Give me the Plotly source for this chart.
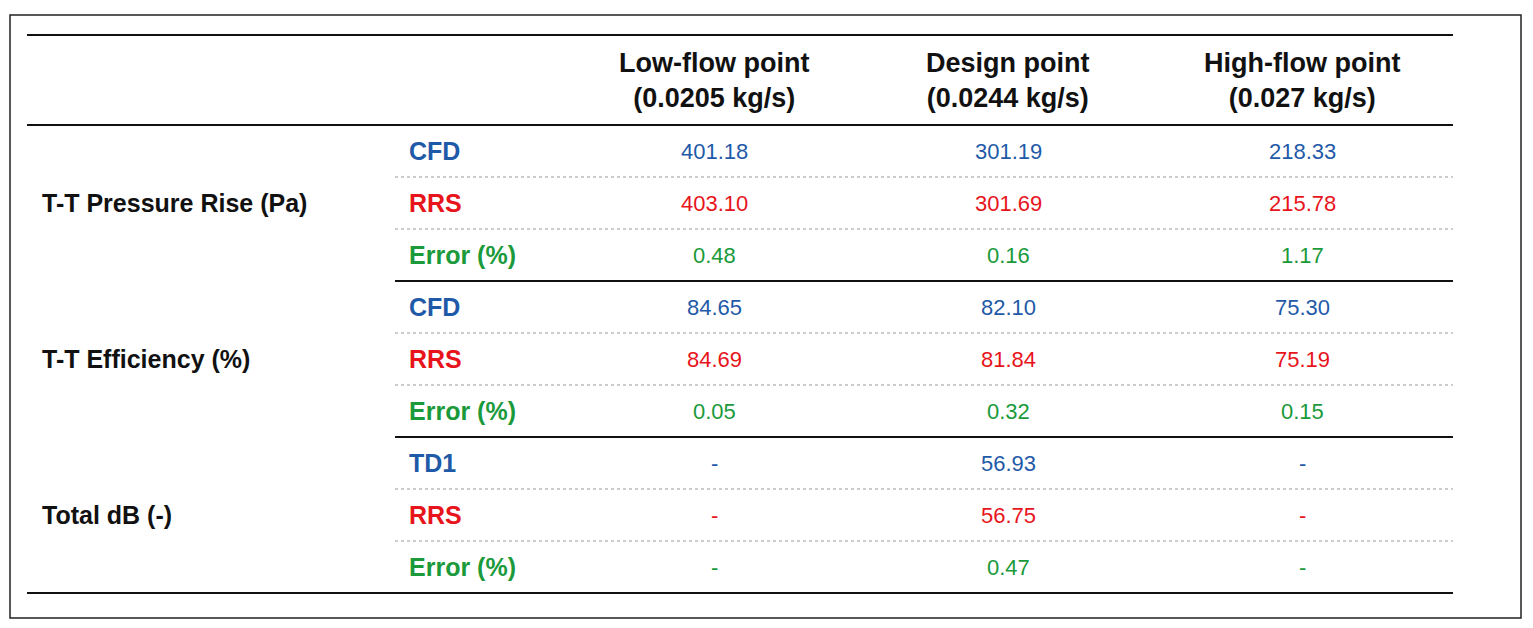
import plotly.graph_objects as go

headers = ["Low-flow point<br>(0.0205 kg/s)", "Design point<br>(0.0244 kg/s)", "High-flow point<br>(0.027 kg/s)"]
groups = ["T-T Pressure Rise (Pa)", "T-T Efficiency (%)", "Total dB (-)"]
sublabels = [["CFD", "RRS", "Error (%)"], ["CFD", "RRS", "Error (%)"], ["TD1", "RRS", "Error (%)"]]
values = [
    [["401.18", "301.19", "218.33"], ["403.10", "301.69", "215.78"], ["0.48", "0.16", "1.17"]],
    [["84.65", "82.10", "75.30"], ["84.69", "81.84", "75.19"], ["0.05", "0.32", "0.15"]],
    [["-", "56.93", "-"], ["-", "56.75", "-"], ["-", "0.47", "-"]],
]
colors = ["#1f5aa8", "#e8141c", "#1a9a3a"]

W, H = 1533, 628
off = 8
col_x = [714, 1008, 1302]
label_x, sub_x = 40, 407
left, right, sub_left = 27, 1453, 395
row0, pitch = 151, 52

fig = go.Figure()
ann, shapes = [], []
font = "Liberation Sans, Arial, sans-serif"

shapes.append(dict(type="rect", x0=10, x1=1521, y0=15, y1=618, line=dict(color="#222", width=1.5)))
shapes.append(dict(type="line", x0=left, x1=right, y0=35, y1=35, line=dict(color="#111", width=2)))
shapes.append(dict(type="line", x0=left, x1=right, y0=125, y1=125, line=dict(color="#111", width=2)))

for j, h in enumerate(headers):
    ann.append(dict(x=col_x[j], y=80, text="<b>%s</b>" % h, showarrow=False,
                    font=dict(size=27, color="#111", family=font)))

for g, gname in enumerate(groups):
    for r in range(3):
        k = g * 3 + r
        y = row0 + k * pitch
        ann.append(dict(x=sub_x, y=y, text="<b>%s</b>" % sublabels[g][r], showarrow=False, xanchor="left",
                        font=dict(size=25, color=colors[r], family=font)))
        for j in range(3):
            ann.append(dict(x=col_x[j], y=y, text=values[g][r][j], showarrow=False,
                            font=dict(size=22, color=colors[r], family=font)))
        if r < 2:
            yl = y + pitch / 2
            shapes.append(dict(type="line", x0=sub_left, x1=right, y0=yl, y1=yl,
                               line=dict(color="#999", width=1, dash="dot")))
    ann.append(dict(x=label_x, y=row0 + (g * 3 + 1) * pitch, text="<b>%s</b>" % gname, showarrow=False,
                    xanchor="left", font=dict(size=25, color="#111", family=font)))
    yb = row0 + (g * 3 + 2) * pitch + pitch / 2
    x0 = sub_left if g < 2 else left
    shapes.append(dict(type="line", x0=x0, x1=right, y0=yb, y1=yb, line=dict(color="#111", width=2)))

fig.update_layout(width=W, height=H, margin=dict(l=0, r=0, t=0, b=0),
                  paper_bgcolor="white", plot_bgcolor="white",
                  xaxis=dict(range=[off, W + off], visible=False, fixedrange=True),
                  yaxis=dict(range=[H + off, off], visible=False, fixedrange=True),
                  annotations=ann, shapes=shapes, showlegend=False)
fig.write_html("out.html")
